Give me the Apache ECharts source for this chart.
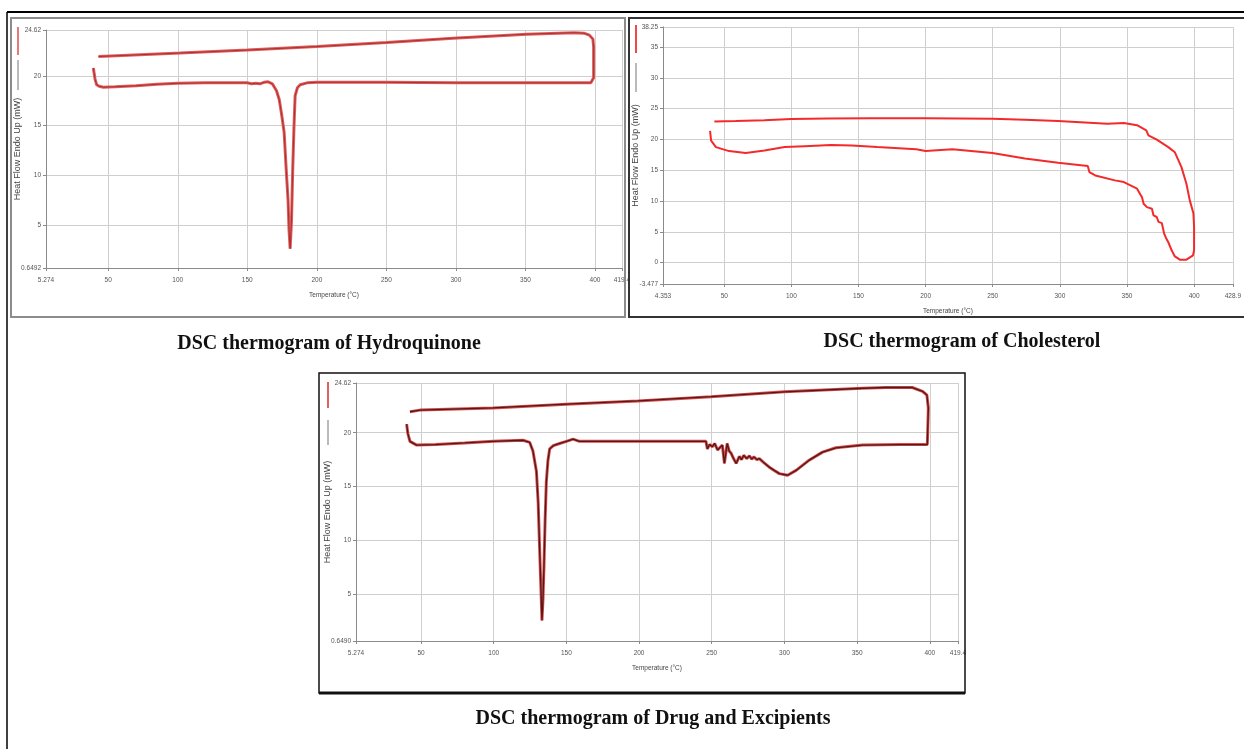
<!DOCTYPE html>
<html>
<head>
<meta charset="utf-8">
<title>DSC thermograms</title>
<script src="https://cdn.jsdelivr.net/npm/echarts@6/dist/echarts.min.js"></script>
<style>
  html, body { margin: 0; padding: 0; background: #fff; }
  #chart { width: 1244px; height: 749px; }
</style>
</head>
<body>
<div id="chart"></div>
<script>
// Hydroquinone (heating run then cooling run, one loop)
var hqTemp = [39.3, 40.5, 41.7, 43.5, 46.5, 55, 70, 85, 100, 120, 140, 150, 153, 156, 159, 162, 165, 168, 171, 173, 175, 176.5, 178, 179.3, 180, 180.8, 181.8, 182.7, 183.6, 184.4, 186, 188, 193, 200, 250, 300, 350, 397, 399, 399, 398.5, 396, 392, 385, 351, 298, 250, 200, 150, 101.7, 60, 43]
var hqFlow = [20.8, 19.7, 19.1, 18.95, 18.86, 18.9, 19.0, 19.15, 19.25, 19.3, 19.3, 19.3, 19.2, 19.25, 19.2, 19.35, 19.4, 19.2, 18.5, 17.6, 15.8, 14.3, 10.5, 7.5, 4.5, 2.6, 5.5, 10.8, 15.0, 18.0, 18.8, 19.1, 19.3, 19.35, 19.35, 19.3, 19.3, 19.3, 19.8, 22.9, 23.7, 24.1, 24.3, 24.35, 24.2, 23.8, 23.35, 22.95, 22.6, 22.3, 22.05, 21.95]

// Cholesterol
var chTemp = [39.4, 40.2, 43.8, 53.6, 66, 80, 95, 110, 129.4, 145, 164, 193, 200, 220, 249.7, 274, 298.7, 320.8, 322, 326.4, 341, 347.7, 357.5, 361.2, 362.4, 364.9, 368.6, 369.8, 372.2, 373.5, 376, 377.7, 379.1, 380.8, 383.3, 385.7, 389.4, 394.3, 399.2, 400, 400, 399.5, 396.8, 394.3, 390.6, 385.7, 380.8, 372.2, 366, 364.4, 357.5, 347.7, 335.4, 298.7, 274, 249.7, 200, 160, 127, 100, 80, 58.5, 42.6]
var chFlow = [21.4, 19.8, 18.75, 18.1, 17.8, 18.2, 18.75, 18.9, 19.1, 19.0, 18.75, 18.4, 18.1, 18.4, 17.8, 16.9, 16.2, 15.7, 14.7, 14.15, 13.35, 13.07, 12.0, 10.6, 9.56, 9.0, 8.75, 7.66, 7.4, 6.6, 6.4, 4.7, 4.0, 3.3, 2.0, 1.0, 0.47, 0.47, 1.17, 2.0, 5.8, 8.0, 10.1, 12.8, 15.5, 17.9, 18.75, 19.95, 20.65, 21.46, 22.3, 22.65, 22.55, 22.97, 23.2, 23.36, 23.45, 23.45, 23.4, 23.3, 23.1, 22.97, 22.9]

// Drug and excipients
var dgTemp = [40.1, 41, 42.4, 47, 60, 80, 99.6, 120.2, 124.8, 127, 129.4, 130.6, 131.6, 132.5, 133.2, 133.9, 134.6, 135.4, 136.2, 137.3, 138.5, 141, 145.4, 150, 154.6, 159, 180, 200, 246, 247, 248.5, 250.5, 252, 254, 255.5, 257.3, 258.7, 260.6, 262, 263.3, 265, 266.8, 269, 270.5, 272, 274, 275.9, 277.5, 279, 281, 282.7, 286, 289.6, 293, 296.5, 302.2, 308, 317, 326.2, 335.4, 353.7, 380, 398.3, 399, 399, 398, 395, 388, 370, 353.7, 300, 249.6, 199.2, 150, 99.6, 49.2, 42.4]
var dgFlow = [20.8, 19.9, 19.2, 18.85, 18.9, 19.05, 19.2, 19.3, 19.1, 18.3, 16.4, 13.5, 9.2, 5.5, 2.55, 4.5, 7.7, 12, 15.4, 17.4, 18.5, 18.8, 19.0, 19.2, 19.4, 19.2, 19.2, 19.2, 19.2, 18.5, 18.9, 18.7, 19.0, 18.4, 18.6, 18.85, 17.15, 19.0, 18.3, 18.1, 17.6, 17.15, 17.8, 17.5, 17.9, 17.6, 17.85, 17.55, 17.75, 17.5, 17.6, 17.2, 16.8, 16.5, 16.2, 16.05, 16.5, 17.45, 18.2, 18.6, 18.85, 18.9, 18.9, 19.0, 22.3, 23.5, 23.85, 24.2, 24.2, 24.13, 23.8, 23.35, 22.95, 22.65, 22.3, 22.1, 21.95]

// axis ticks (instrument style: ends carry the range values)
var hqXTicks = [5.274, 50, 100, 150, 200, 250, 300, 350, 400, 419.4]
var hqYTicks = [0.6492, 5, 10, 15, 20, 24.62]
var chXTicks = [4.353, 50, 100, 150, 200, 250, 300, 350, 400, 428.9]
var chYTicks = [-3.477, 0, 5, 10, 15, 20, 25, 30, 35, 38.25]
var dgXTicks = [5.274, 50, 100, 150, 200, 250, 300, 350, 400, 419.4]
var dgYTicks = [0.6490, 5, 10, 15, 20, 24.62]

var titles = ['DSC thermogram of Hydroquinone', 'DSC thermogram of Cholesterol', 'DSC thermogram of Drug and Excipients']
var yName = 'Heat Flow Endo Up (mW)'
var xName = 'Temperature (°C)'

function pairs (xs, ys) {
  return xs.map(function (x, i) { return [x, ys[i]] })
}

function fmt (v) {
  if (v === 0.649) return '0.6490'
  return String(v)
}

var labelStyle = { color: '#555', fontSize: 6.5, fontFamily: 'Liberation Sans' }
var gridLine = { lineStyle: { color: '#cfcfcf', width: 1 } }

function xAxis (idx, ticks) {
  return {
    type: 'value',
    gridIndex: idx,
    min: ticks[0],
    max: ticks[ticks.length - 1],
    name: xName,
    nameLocation: 'middle',
    nameGap: 24,
    nameMoveOverlap: false,
    nameTextStyle: { color: '#444', fontSize: 6.5, fontFamily: 'Liberation Sans' },
    axisLine: { onZero: false, lineStyle: { color: '#8a8a8a' } },
    axisTick: { show: true, length: 3, customValues: ticks, lineStyle: { color: '#8a8a8a' } },
    axisLabel: Object.assign({ customValues: ticks, margin: 9, formatter: fmt }, labelStyle),
    splitLine: gridLine
  }
}

function yAxis (idx, ticks, gap) {
  return {
    type: 'value',
    gridIndex: idx,
    min: ticks[0],
    max: ticks[ticks.length - 1],
    name: yName,
    nameLocation: 'middle',
    nameRotate: 90,
    nameGap: gap,
    nameMoveOverlap: false,
    nameTextStyle: { color: '#444', fontSize: 9, fontFamily: 'Liberation Sans' },
    axisLine: { show: true, onZero: false, lineStyle: { color: '#8a8a8a' } },
    axisTick: { show: true, length: 3, customValues: ticks, lineStyle: { color: '#8a8a8a' } },
    axisLabel: Object.assign({ customValues: ticks, margin: 5, formatter: fmt }, labelStyle),
    splitLine: gridLine
  }
}

function trace (idx, data, color, width, z) {
  return {
    type: 'line',
    xAxisIndex: idx,
    yAxisIndex: idx,
    data: data,
    showSymbol: false,
    symbol: 'none',
    smooth: false,
    z: z,
    lineStyle: { color: color, width: width },
    animation: false
  }
}

// little legend swatches stacked above the rotated y name
function swatch (x, y1, y2, color, w) {
  return { type: 'line', shape: { x1: x, y1: y1, x2: x, y2: y2 }, style: { stroke: color, lineWidth: w } }
}

function frame (x, y, w, h, color, lw) {
  return { type: 'rect', shape: { x: x, y: y, width: w, height: h }, style: { fill: 'none', stroke: color, lineWidth: lw }, z: 10 }
}

function caption (text, x, y) {
  return {
    type: 'text',
    x: x,
    y: y,
    style: { text: text, align: 'center', verticalAlign: 'middle', font: 'bold 20px "Liberation Serif"', fill: '#111' }
  }
}

var chart = echarts.init(document.getElementById('chart'))

var hq = pairs(hqTemp, hqFlow)
var ch = pairs(chTemp, chFlow)
var dg = pairs(dgTemp, dgFlow)

var option = {
  backgroundColor: '#fff',
  animation: false,
  grid: [
    { left: 46, top: 30, width: 576, height: 238 },
    { left: 663, top: 27, width: 577, height: 257 },
    { left: 356, top: 383, width: 602, height: 258 }
  ],
  xAxis: [xAxis(0, hqXTicks), xAxis(1, chXTicks), xAxis(2, dgXTicks)],
  yAxis: [yAxis(0, hqYTicks, 24), yAxis(1, chYTicks, 23), yAxis(2, dgYTicks, 24)],
  series: [
    trace(0, hq, '#e25a5a', 3, 2),
    trace(0, hq, '#a83232', 1, 3),
    trace(1, ch, '#f42a2a', 2, 2),
    trace(2, dg, '#e04848', 3, 2),
    trace(2, dg, '#4a1c1c', 1.3, 3)
  ],
  graphic: [
    // page border (top and left)
    { type: 'line', shape: { x1: 7, y1: 12, x2: 1244, y2: 12 }, style: { stroke: '#000', lineWidth: 2 } },
    { type: 'line', shape: { x1: 7, y1: 12, x2: 7, y2: 749 }, style: { stroke: '#000', lineWidth: 1.5 } },
    frame(11, 18, 614, 299, '#8c8c8c', 2),
    frame(629, 18, 620, 299, '#333', 2),
    frame(319, 373, 646, 320, '#111', 1.5),
    { type: 'line', shape: { x1: 319, y1: 693, x2: 965, y2: 693 }, style: { stroke: '#111', lineWidth: 3 } },
    swatch(18, 27, 55, '#e57a7a', 2),
    swatch(18, 60, 90, '#777', 1),
    swatch(636, 25, 53, '#f04848', 2),
    swatch(636, 63, 92, '#777', 1),
    swatch(328, 382, 408, '#e06060', 2),
    swatch(328, 420, 445, '#777', 1),
    caption(titles[0], 329, 344),
    caption(titles[1], 962, 342),
    caption(titles[2], 653, 719)
  ]
}

chart.setOption(option)
</script>
</body>
</html>
